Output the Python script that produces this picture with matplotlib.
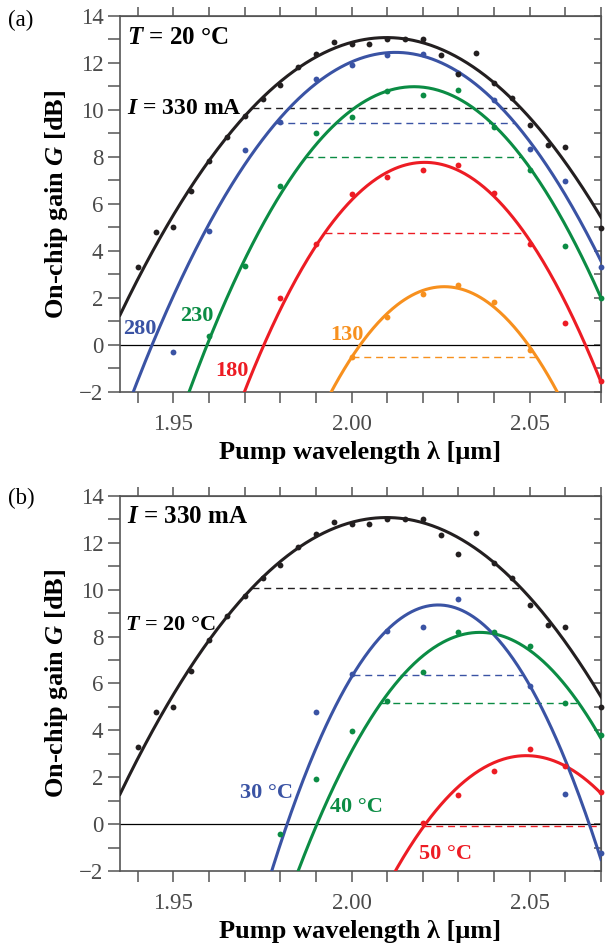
import matplotlib
matplotlib.use('Agg')
import matplotlib.pyplot as plt
import numpy as np

plt.rcParams['font.family'] = ['Liberation Serif', 'DejaVu Serif']
plt.rcParams['mathtext.fontset'] = 'custom'
plt.rcParams['mathtext.rm'] = 'Liberation Serif:bold'
plt.rcParams['mathtext.bf'] = 'Liberation Serif:bold'
plt.rcParams['mathtext.it'] = 'Liberation Serif:italic:bold'

# measured gain vs pump wavelength, T = 20 C, I = 330 mA (used in both panels)
wl_330 = [1.94, 1.945, 1.95, 1.955, 1.96, 1.965, 1.97, 1.975, 1.98, 1.985, 1.99, 1.995,
          2.00, 2.005, 2.01, 2.015, 2.02, 2.025, 2.03, 2.035, 2.04, 2.045, 2.05, 2.055,
          2.06, 2.07]
g_330 = [3.3, 4.8, 5.0, 6.55, 7.84, 8.86, 9.74, 10.48, 11.05, 11.84, 12.37, 12.88,
         12.8, 12.8, 13.0, 13.03, 13.0, 12.33, 11.53, 12.44, 11.13, 10.5, 9.35, 8.5,
         8.43, 4.99]

# panel (a): other currents at 20 C
wl_280 = [1.95, 1.96, 1.97, 1.98, 1.99, 2.00, 2.01, 2.02, 2.03, 2.04, 2.05, 2.06, 2.07]
g_280 = [-0.31, 4.86, 8.3, 9.49, 11.32, 11.93, 12.34, 12.37, 11.56, 10.43, 8.34, 6.98, 3.33]
wl_230 = [1.96, 1.97, 1.98, 1.99, 2.00, 2.01, 2.02, 2.03, 2.04, 2.05, 2.06, 2.07]
g_230 = [0.38, 3.36, 6.78, 9.03, 9.71, 10.81, 10.65, 10.84, 9.29, 7.45, 4.21, 1.99]
wl_180 = [1.98, 1.99, 2.00, 2.01, 2.02, 2.03, 2.04, 2.05, 2.06, 2.07]
g_180 = [2.01, 4.28, 6.43, 7.15, 7.43, 7.66, 6.45, 4.28, 0.95, -1.52]
wl_130 = [2.00, 2.01, 2.02, 2.03, 2.04, 2.05]
g_130 = [-0.52, 1.18, 2.17, 2.55, 1.84, -0.21]

# panel (b): other temperatures at 330 mA
wl_30C = [1.99, 2.00, 2.01, 2.02, 2.03, 2.05, 2.06, 2.07]
g_30C = [4.8, 6.4, 8.24, 8.40, 9.59, 5.89, 1.3, -1.25]
wl_40C = [1.98, 1.99, 2.00, 2.01, 2.02, 2.03, 2.04, 2.05, 2.06, 2.07]
g_40C = [-0.44, 1.94, 3.97, 5.27, 6.49, 8.18, 8.18, 7.61, 5.17, 3.8]
wl_50C = [2.02, 2.03, 2.04, 2.05, 2.06, 2.07]
g_50C = [0.03, 1.24, 2.28, 3.2, 2.48, 1.38]

# parabolic fits: (peak gain [dB], centre wavelength [um], curvature [dB/um^2])
fit_330 = (13.08, 2.0098, 2110)
fit_280 = (12.45, 2.0123, 2668)
fit_230 = (10.99, 2.0175, 3260)
fit_180 = (7.77, 2.0205, 3816)
fit_130 = (2.48, 2.026, 4450)
fit_30C = (9.35, 2.0243, 5200)
fit_40C = (8.18, 2.036, 3914)
fit_50C = (2.92, 2.049, 3650)

c_black = '#231f20'
c_blue = '#3a53a4'
c_green = '#0b8c44'
c_red = '#ed1c24'
c_orange = '#f7901e'
c_axis = '#555555'

xmin, xmax = 1.935, 2.07


def gain_fit(wl, fit):
    peak, center, curv = fit
    return peak - curv * (wl - center) ** 2


def draw_series(ax, wl, g, fit, color):
    x = np.linspace(xmin, xmax, 400)
    ax.plot(x, gain_fit(x, fit), color=color, lw=2.2, zorder=3)
    # 3 dB bandwidth
    peak, center, curv = fit
    hw = np.sqrt(3.0 / curv)
    ax.plot([center - hw, center + hw], [peak - 3, peak - 3], color=color,
            lw=1.0, dashes=(5, 3.5), zorder=2)
    ax.plot(wl, g, 'o', color=color, ms=4.2, mec='none', zorder=4, clip_on=False)


def style_axes(ax):
    ax.set_xlim(xmin, xmax)
    ax.set_ylim(-2, 14)
    ax.axhline(0, color='black', lw=0.9, zorder=1)
    ax.set_xticks([1.95, 2.00, 2.05])
    ax.set_xticklabels(['1.95', '2.00', '2.05'])
    ax.set_xticks(np.arange(1.94, 2.0701, 0.01), minor=True)
    ax.set_yticks(np.arange(-2, 15, 2))
    ax.set_yticks(np.arange(-2, 15, 1), minor=True)
    for s in ax.spines.values():
        s.set_color(c_axis)
        s.set_linewidth(1.2)
    ax.tick_params(axis='both', which='both', direction='out', color=c_axis,
                   width=1.1, labelcolor='#4a4a4a', labelsize=16.5)
    ax.tick_params(axis='x', which='both', length=8, pad=8)
    ax.tick_params(axis='y', which='both', length=9, pad=3)
    top = ax.secondary_xaxis('top')
    top.set_xticks(np.arange(1.94, 2.0701, 0.01))
    top.tick_params(direction='out', length=6.5, width=1.1, color=c_axis,
                    labeltop=False)
    top.spines['top'].set_color(c_axis)
    right = ax.secondary_yaxis('right')
    right.set_yticks(np.arange(-2, 15, 1))
    right.tick_params(direction='in', length=5, width=1.1, color=c_axis,
                      labelright=False)
    right.spines['right'].set_color(c_axis)
    ax.set_xlabel(r'Pump wavelength λ [μm]', fontsize=19, fontweight='bold')
    ax.set_ylabel(r'On-chip gain $\mathit{G}$ [dB]', fontsize=19, fontweight='bold')
    ax.xaxis.set_label_coords(0.5, -0.13)
    ax.yaxis.set_label_coords(-0.105, 0.5)


fig = plt.figure(figsize=(6.08, 9.5), dpi=100)
ax1 = fig.add_axes([0.1974, 0.5874, 0.7911, 0.3958])
ax2 = fig.add_axes([0.1974, 0.0832, 0.7911, 0.3947])

# (a) current dependence
style_axes(ax1)
draw_series(ax1, wl_130, g_130, fit_130, c_orange)
draw_series(ax1, wl_180, g_180, fit_180, c_red)
draw_series(ax1, wl_230, g_230, fit_230, c_green)
draw_series(ax1, wl_280, g_280, fit_280, c_blue)
draw_series(ax1, wl_330, g_330, fit_330, c_black)
ax1.text(0.0146, 0.944, r'$\mathit{T}$ = 20 °C', transform=ax1.transAxes,
         fontsize=18, fontweight='bold', ha='left', va='center')
ax1.text(0.0146, 0.755, r'$\mathit{I}$ = 330 mA', transform=ax1.transAxes,
         fontsize=17, fontweight='bold', ha='left', va='center')
ax1.text(1.936, 0.68, '280', color=c_blue, fontsize=16, fontweight='bold',
         ha='left', va='center')
ax1.text(1.952, 1.23, '230', color=c_green, fontsize=16, fontweight='bold',
         ha='left', va='center')
ax1.text(1.9618, -1.1, '180', color=c_red, fontsize=16, fontweight='bold',
         ha='left', va='center')
ax1.text(1.9941, 0.43, '130', color=c_orange, fontsize=16, fontweight='bold',
         ha='left', va='center')

# (b) temperature dependence
style_axes(ax2)
draw_series(ax2, wl_50C, g_50C, fit_50C, c_red)
draw_series(ax2, wl_40C, g_40C, fit_40C, c_green)
draw_series(ax2, wl_30C, g_30C, fit_30C, c_blue)
draw_series(ax2, wl_330, g_330, fit_330, c_black)
ax2.text(0.0146, 0.944, r'$\mathit{I}$ = 330 mA', transform=ax2.transAxes,
         fontsize=18, fontweight='bold', ha='left', va='center')
ax2.text(0.0104, 0.656, r'$\mathit{T}$ = 20 °C', transform=ax2.transAxes,
         fontsize=16, fontweight='bold', ha='left', va='center')
ax2.text(1.9688, 1.33, '30 °C', color=c_blue, fontsize=16, fontweight='bold',
         ha='left', va='center')
ax2.text(1.9939, 0.73, '40 °C', color=c_green, fontsize=16, fontweight='bold',
         ha='left', va='center')
ax2.text(2.019, -1.28, '50 °C', color=c_red, fontsize=16, fontweight='bold',
         ha='left', va='center')

fig.text(0.013, 1 - 20 / 950., '(a)', fontsize=16.5, ha='left', va='center')
fig.text(0.013, 1 - 498 / 950., '(b)', fontsize=16.5, ha='left', va='center')

fig.savefig('out.png', dpi=100)
